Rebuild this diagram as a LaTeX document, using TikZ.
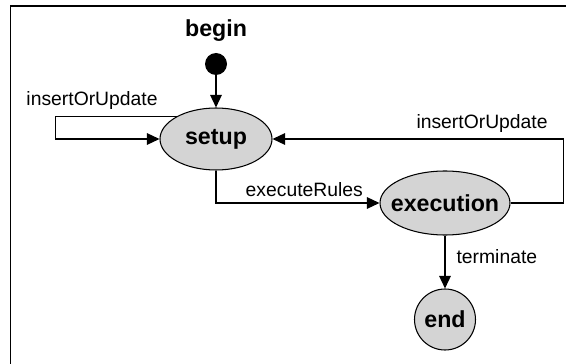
\documentclass[tikz,border=0pt]{standalone}
\usepackage{fontspec}
\setmainfont{Liberation Sans}
\usepackage{xcolor}
\usepackage{tikz}
\usetikzlibrary{positioning,arrows.meta,shapes}
\definecolor{stategray}{HTML}{D4D4D4}

\begin{document}
\begin{tikzpicture}[
    state/.style={ellipse, draw, line width=0.6pt, fill=stategray, inner sep=0pt, font=\fontsize{13.2}{15}\selectfont\bfseries},
    arrow/.style={-{Triangle[length=0.25cm,width=0.23cm]}, line width=0.8pt},
    lbl/.style={font=\fontsize{11}{13}\selectfont}
]
    \useasboundingbox (0,0) rectangle (11.32,-7.28);
    \draw[line width=0.8pt] (0.21,-7.28) -- (0.21,-0.12) -- (11.32,-0.12);

    \node[font=\fontsize{13.2}{15}\selectfont\bfseries] (begintext) at (4.32,-0.62) {begin};
    \node[circle, fill=black, minimum size=0.44cm, inner sep=0pt] (start) at (4.32,-1.28) {};
    \node[state, minimum width=2.24cm, minimum height=1.24cm] (setup) at (4.32,-2.78) {setup};
    \node[state, inner xsep=-0.26cm, minimum width=2.6cm, minimum height=1.28cm] (execution) at (8.9,-4.06) {execution};
    \node[state, circle, minimum size=1.22cm] (finish) at (8.9,-6.39) {end};

    \draw[arrow] (start) -- (setup);
    \draw[arrow] (setup.150) -- ++(-2.42,0) node[lbl, pos=0.7, above] {insertOrUpdate} |- (setup.west);
    \draw[arrow] (setup.south) |- node[lbl, pos=0.77, above] {executeRules} (execution.west);
    \draw[arrow] (execution.east) -- ++(1.06,0) |- node[lbl, pos=0.64, above] {insertOrUpdate} (setup.east);
    \draw[arrow] (execution) -- node[lbl, pos=0.4, right, xshift=0.1cm] {terminate} (finish);
\end{tikzpicture}
\end{document}
